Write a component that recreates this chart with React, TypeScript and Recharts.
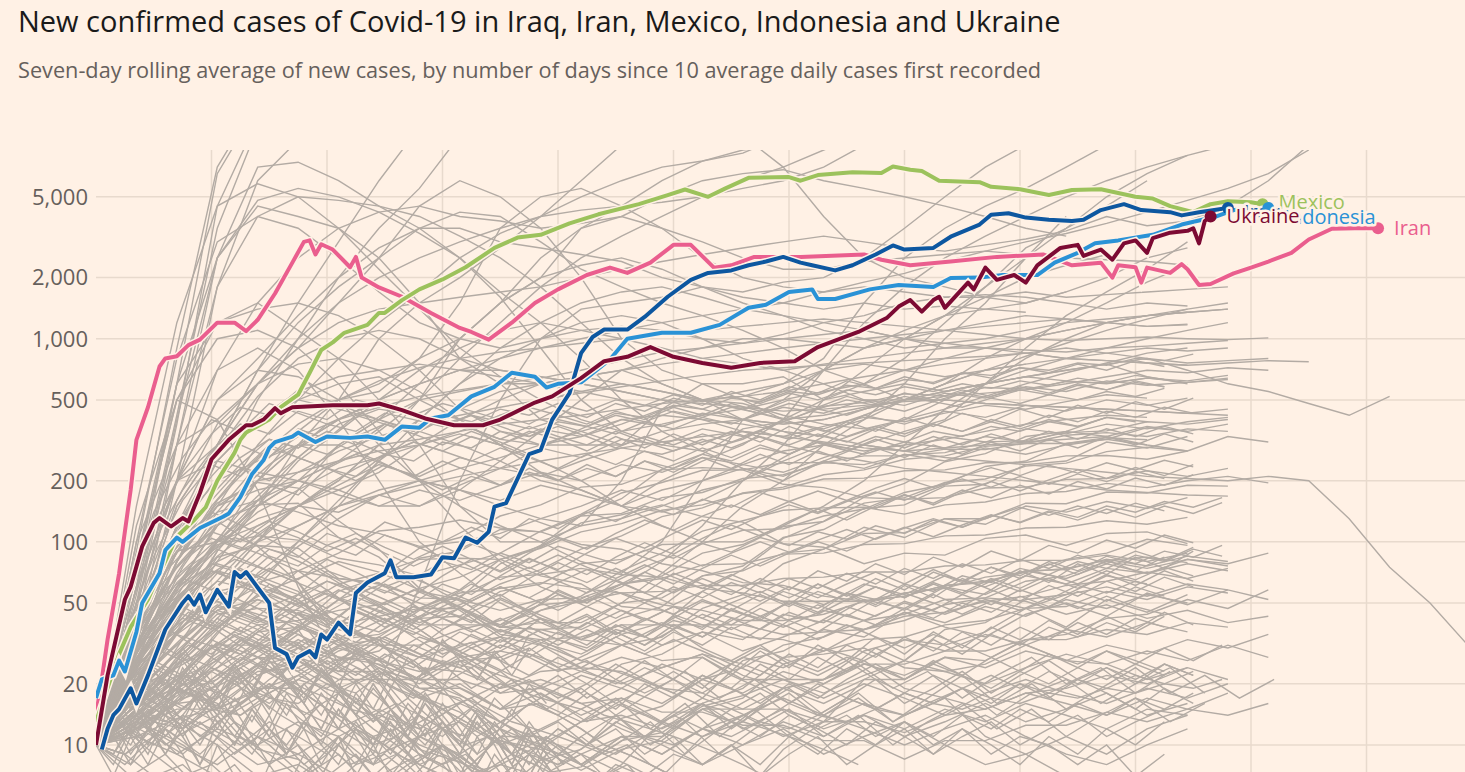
import { LineChart, Line, XAxis, YAxis, CartesianGrid } from "recharts";

const BG = "#FFF1E5";
const FONT = "'Open Sans', sans-serif";
const WEEK = 7; // days between points of the weekly grey series
const SIX = 6;
const FIVE = 5;
const FOUR = 4;
const THREE = 3;

const Y_TICKS = [10, 20, 50, 100, 200, 500, 1000, 2000, 5000];
const DAY_GRID = [20, 40, 60, 80, 100, 120, 140, 160, 180, 200, 220];

// [days since 10 average daily cases, seven-day average of new cases]
const IRAN: [number, number][] = [
  [0, 14], [1, 21], [2, 33], [4, 70], [6, 180], [7, 318], [9, 460], [11, 730], [12, 800], [14, 820],
  [16, 930], [18, 990], [21, 1200], [24, 1200], [26, 1090], [28, 1240], [31, 1670], [34, 2370], [36, 3000],
  [37, 3050], [38, 2600], [39, 2920], [41, 2750], [44, 2250], [45, 2530], [46, 2000], [49, 1790], [53, 1610],
  [58, 1340], [63, 1130], [65, 1080], [68, 990], [72, 1200], [76, 1500], [80, 1750], [85, 2060], [89, 2240],
  [92, 2110], [96, 2370], [100, 2900], [103, 2900], [107, 2240], [110, 2300], [114, 2530], [122, 2530],
  [133, 2600], [136, 2450], [141, 2300], [148, 2400], [156, 2530], [164, 2600], [169, 2300], [174, 2370],
  [176, 2000], [177, 2300], [180, 2250], [181, 1890], [182, 2240], [186, 2110], [188, 2330], [189, 2200],
  [191, 1840], [193, 1860], [197, 2100], [200, 2240], [203, 2400], [207, 2650], [210, 3080], [214, 3480],
  [218, 3500], [222, 3500],
];

const MEXICO: [number, number][] = [
  [0, 13], [4, 28], [6, 38], [9, 52], [11, 70], [14, 106], [17, 128], [19, 148], [21, 200], [24, 275],
  [25, 318], [26, 345], [30, 400], [32, 460], [35, 530], [37, 680], [39, 880], [41, 960], [43, 1070],
  [47, 1170], [49, 1340], [50, 1340], [53, 1550], [56, 1750], [60, 1960], [64, 2250], [69, 2800], [73, 3150],
  [77, 3250], [82, 3700], [87, 4100], [94, 4600], [99, 5100], [102, 5430], [106, 5000], [109, 5500],
  [113, 6200], [120, 6250], [122, 6000], [125, 6400], [131, 6600], [136, 6550], [138, 7050], [141, 6800],
  [143, 6700], [146, 6000], [153, 5900], [155, 5600], [160, 5450], [165, 5100], [169, 5400], [174, 5450],
  [180, 5000], [183, 4900], [186, 4500], [190, 4200], [193, 4600], [196, 4750], [200, 4700], [202, 4600],
];

const IRAQ: [number, number][] = [
  [1, 9.5], [2, 12], [3, 14], [4, 15], [6, 19], [7, 16], [9, 22], [12, 37], [15, 50], [16, 54], [17, 49],
  [18, 55], [19, 45], [21, 58], [23, 48], [24, 71], [25, 67], [26, 71], [30, 50], [31, 30], [33, 28],
  [34, 24], [35, 27], [37, 29], [38, 27], [39, 35], [40, 33], [42, 40], [44, 35], [45, 56], [47, 63],
  [50, 70], [51, 81], [52, 67], [55, 67], [58, 69], [60, 84], [62, 83], [64, 105], [66, 99], [68, 112],
  [69, 149], [71, 155], [75, 270], [77, 283], [79, 400], [82, 540], [84, 850], [86, 1020], [88, 1110],
  [92, 1110], [95, 1280], [99, 1610], [103, 1950], [106, 2110], [110, 2170], [113, 2300], [116, 2400],
  [119, 2530], [122, 2370], [124, 2300], [128, 2170], [131, 2300], [135, 2600], [138, 2880], [140, 2750],
  [145, 2800], [148, 3180], [153, 3650], [155, 4080], [158, 4150], [161, 3950], [165, 3850], [169, 3800],
  [171, 3850], [174, 4300], [178, 4600], [181, 4300], [186, 4200], [188, 4050], [191, 4200], [196, 4400],
];

const INDONESIA: [number, number][] = [
  [0, 17], [1, 21], [3, 22], [4, 26], [5, 23], [7, 36], [8, 50], [11, 70], [12, 91], [14, 105], [15, 100],
  [18, 117], [22, 133], [23, 138], [25, 166], [27, 215], [29, 252], [30, 290], [31, 310], [34, 330],
  [35, 345], [38, 310], [40, 330], [44, 325], [47, 330], [50, 318], [53, 370], [56, 365], [58, 405],
  [61, 420], [65, 520], [69, 580], [72, 680], [76, 650], [78, 575], [80, 600], [84, 610], [89, 790],
  [92, 1000], [98, 1070], [103, 1070], [108, 1170], [113, 1420], [116, 1470], [120, 1700], [124, 1750],
  [125, 1570], [128, 1570], [134, 1750], [139, 1840], [145, 1800], [148, 1990], [153, 2000], [157, 2060],
  [163, 2060], [166, 2370], [170, 2650], [173, 2950], [177, 3050], [183, 3250], [188, 3650], [194, 4000],
  [197, 4300], [203, 4400],
];

const UKRAINE: [number, number][] = [
  [0, 10], [2, 22], [5, 52], [6, 60], [8, 95], [10, 124], [11, 131], [13, 119], [15, 131], [16, 126],
  [18, 174], [20, 255], [23, 318], [26, 375], [27, 375], [29, 400], [31, 455], [32, 430], [34, 460],
  [41, 470], [47, 470], [49, 480], [53, 445], [57, 405], [62, 375], [67, 375], [70, 400], [76, 485],
  [79, 520], [84, 640], [88, 775], [92, 815], [96, 910], [100, 815], [105, 760], [110, 720], [115, 760],
  [121, 775], [125, 910], [132, 1080], [137, 1270], [139, 1440], [141, 1550], [143, 1360], [145, 1550],
  [146, 1610], [147, 1420], [151, 1890], [152, 1750], [154, 2240], [156, 1950], [159, 2060], [161, 1890],
  [163, 2300], [167, 2800], [170, 2900], [171, 2560], [174, 2750], [176, 2450], [178, 2950], [180, 3050],
  [182, 2650], [183, 3130], [186, 3330], [189, 3400], [190, 3500], [191, 2950], [192, 3800], [193, 4000],
];

// every other country, one value per week from day 0
const OTHER_WEEKLY: number[][] = [
  [10, 70, 600, 6500, 14000],
  [10, 45, 380, 4500, 12000],
  [10, 30, 200, 1800, 6000, 9500, 12000],
  [10, 90, 900, 7000, 15000],
  [10, 55, 420, 3500, 11000],
  [10, 40, 300, 2500, 7000, 7400, 6000, 4500, 3500, 2500, 1600, 900, 500, 350, 300, 280, 320, 400, 700, 1200, 1800, 2500, 3200, 4000, 5000, 6000, 7000, 8000, 9000, 10000],
  [10, 80, 600, 2500, 4800, 5500, 5000, 4200, 3300, 2500, 1700, 1200, 800, 500, 350, 280, 230, 200, 250, 300, 350, 400, 600, 900, 1300, 1700, 2200, 3000],
  [10, 150, 1200, 4500, 5800, 5000, 3500, 2200, 1400, 900, 650, 500, 400, 350, 380, 420, 450, 550, 700, 900, 1100, 1300, 1400, 1500, 1700, 2000, 2500, 2800],
  [10, 50, 400, 2500, 4500, 4000, 3500, 2500, 1500, 800, 600, 400, 350, 300, 450, 500, 550, 600, 800, 1500, 2500, 3500, 4500, 5500, 7000, 9000, 12000],
  [10, 30, 300, 1800, 4000, 5000, 4800, 4500, 4000, 3200, 2500, 1800, 1200, 800, 600, 500, 450, 500, 700, 900, 1000, 1300, 1800, 2800, 3500, 4500, 6000],
  [10, 100, 800, 3000, 4000, 3500, 2500, 1700, 1200, 1000, 900, 1000, 1100, 1150, 1100, 1000, 950, 1050, 1200, 1300, 1500, 1600, 1600, 1700, 1600, 1650, 1700, 1750, 1800],
  [10, 30, 100, 300, 700, 1500, 3000, 6000, 11000],
  [10, 25, 80, 200, 500, 1000, 2000, 3500, 5500, 10000],
  [10, 30, 80, 150, 300, 500, 800, 1200, 1700, 2500, 3300, 4000, 5000, 6000, 7000, 7500, 8200, 10000],
  [10, 40, 150, 300, 600, 1000, 1500, 2000, 2500, 3000, 3500, 4000, 4300, 4500, 4700, 5000, 5500, 6000, 7000, 9000],
  [10, 50, 90, 100, 150, 300, 500, 1000, 1500, 2000, 2800, 4000, 6000, 9000, 11000, 12000, 10000, 7000, 4000, 2500, 2000, 1800, 1600, 1500, 1700],
  [10, 60, 200, 300, 400, 450, 500, 550, 800, 1500, 3500, 5000, 5500, 4500, 3500, 2500, 2000, 1800, 1700, 1800, 1700, 1600, 1650, 1600, 1500, 1400, 1500, 1450],
  [10, 30, 60, 100, 150, 200, 300, 400, 600, 1000, 1500, 2500, 3500, 4500, 6000, 7500, 8500, 9000],
  [10, 40, 90, 100, 120, 150, 200, 300, 500, 800, 1200, 1800, 2500, 3200, 4000, 5000, 6000, 7000, 8500, 10000],
  [10, 30, 100, 300, 700, 1200, 1800, 2500, 3500, 4200, 4000, 3000, 2200, 1800, 1500, 1300, 1100, 900, 700, 600, 500, 500, 480, 470, 460, 450, 440, 430, 420],
  [10, 60, 600, 1200, 1400, 1500, 1300, 1000, 700, 450, 350, 300, 300, 300, 350, 380, 400, 380, 400, 450, 500, 600, 800, 1000, 1200, 1500, 1900, 2300],
  [10, 100, 300, 400, 600, 900, 1500, 2500, 4500, 6000, 5000, 3500, 2000, 1000, 700, 600, 600, 650, 500, 550, 600, 550, 600, 650, 700, 750, 650, 600],
  [10, 50, 200, 500, 800, 1300, 2000, 2800, 3500, 3500, 3000, 2800, 2600, 2400, 2000, 1800, 1600, 1500, 1400, 1500, 1400, 1450, 1400, 1350],
  [10, 80, 200, 250, 220, 200, 250, 350, 500, 1000, 1500, 2000, 3500, 4000, 3500, 3000, 2500, 2200, 2200, 2400, 2500, 2600, 2700, 2600, 2500, 2450, 2400, 2300],
  [10, 120, 500, 400, 180, 60, 25, 20, 60, 200, 500, 1000, 1400, 1500, 1600, 1800, 1700, 1900, 2000, 2500, 3500, 5000, 7000, 9000],
  [10, 60, 200, 700, 1500, 2500, 3500, 4200, 4500, 4000, 3800, 3500, 3700, 4000, 5000, 6000, 6500, 6800, 6000, 5500, 5000, 4500, 4000, 3500, 3200],
  [10, 80, 500, 1200, 1500, 1100, 800, 500, 300, 150, 100, 100, 120, 200, 450, 600, 500, 400, 350, 400, 600, 1000, 1500, 2500, 4000],
  [10, 80, 500, 1000, 1100, 900, 600, 350, 200, 150, 120, 100, 80, 70, 100, 200, 400, 500, 550, 600, 800, 1200, 1800, 2500, 3500, 5000, 6500, 8000],
  [10, 25, 60, 120, 200, 300, 400, 500, 600, 700, 800, 900, 1000, 1100, 1200, 1300, 1400, 1500, 1700, 1900, 2100, 2400, 2700, 3000, 3300, 3700, 4200, 4800, 5500, 6500, 8500],
  [10, 40, 120, 300, 600, 900, 1200, 1400, 1500, 1600, 1700, 1800, 2000, 2200, 2400, 2600, 2800, 3000, 3200, 3000, 2800, 2700, 2900, 3100, 3400, 4000, 3600, 3800, 4500, 6000, 9000],
  [10, 40, 150, 300, 400, 500, 450, 400, 350, 300, 250, 200, 180, 150, 200, 250, 300, 400, 500, 600, 700, 800, 900, 1000, 1100, 1200, 1300, 1350, 1400],
  [10, 25, 60, 120, 200, 300, 400, 500, 600, 700, 700, 650, 600, 550, 500, 450, 400, 380, 400, 450, 500, 550, 600, 650, 620, 600, 640, 610, 630],
  [10, 20, 40, 80, 150, 250, 350, 500, 700, 900, 1100, 1200, 1100, 1000, 900, 800, 750, 700, 750, 800, 850, 900, 950, 1000, 1100, 1200, 1300, 1400],
  [10, 30, 100, 250, 400, 500, 600, 650, 500, 400, 300, 250, 200, 150, 120, 100, 100, 120, 150, 200, 300, 450, 600, 800, 1000, 1200, 1300, 1350, 1400],
  [10, 15, 30, 60, 100, 150, 200, 300, 400, 600, 800, 1000, 1200, 1300, 1200, 1000, 800, 700, 600, 500, 500, 550, 600, 650, 700, 750, 800, 760, 780, 800],
  [10, 50, 200, 500, 700, 650, 500, 300, 200, 120, 80, 60, 50, 60, 80, 120, 200, 300, 500, 700, 1000, 1300, 1600, 2000, 2300, 2600],
  [10, 20, 50, 100, 200, 350, 500, 600, 800, 1000, 1500, 2000, 2300, 2500, 2200, 1800, 1500, 1300, 1100, 1000, 900, 950, 1000, 1100, 1200, 1250, 1300, 1350],
  [10, 30, 80, 150, 180, 200, 180, 150, 150, 180, 250, 350, 500, 700, 800, 900, 1000, 1000, 950, 900, 1000, 1100, 1200, 1300, 1250, 1200, 1150, 1180],
  [10, 15, 25, 40, 70, 100, 150, 250, 350, 450, 550, 600, 650, 600, 550, 500, 520, 600, 700, 750, 700, 650, 700, 750, 800, 850, 900, 870, 900],
  [10, 40, 120, 200, 250, 300, 300, 250, 200, 180, 150, 130, 120, 130, 150, 180, 200, 250, 300, 350, 400, 500, 600, 700, 800, 900, 1000, 1100, 1200],
  [10, 25, 60, 100, 130, 150, 180, 220, 300, 400, 500, 600, 650, 700, 600, 500, 400, 350, 300, 280, 300, 320, 350, 380, 400, 420, 410],
  [10, 20, 35, 60, 100, 180, 300, 400, 500, 550, 600, 600, 550, 500, 450, 400, 350, 300, 270, 250, 230, 220, 210, 200, 190, 180, 175, 170, 168],
  [10, 30, 90, 150, 200, 220, 250, 280, 300, 350, 420, 500, 550, 600, 550, 500, 450, 400, 420, 460, 500, 520, 540, 560, 600, 650, 700, 680, 720, 700],
  [10, 12, 20, 35, 60, 100, 160, 250, 400, 600, 900, 1200, 1500, 1700, 1800, 1600, 1400, 1300, 1200, 1100, 1000, 900, 900, 850, 800, 780, 760, 740],
  [10, 60, 300, 700, 900, 700, 400, 200, 100, 70, 50, 40, 40, 50, 70, 100, 150, 200, 300, 400, 500, 600, 700, 750],
  [10, 35, 110, 280, 520, 800, 1000, 1100, 1000, 800, 700, 650, 600, 550, 500, 480, 460, 440, 450, 470, 490, 500, 480, 470, 460, 450, 440, 430, 450],
  [10, 18, 40, 90, 160, 260, 380, 450, 420, 380, 320, 300, 330, 380, 450, 500, 480, 420, 380, 360, 400, 450, 520, 600, 680, 760, 850, 900],
  [10, 28, 70, 140, 240, 330, 400, 460, 520, 560, 600, 640, 700, 780, 860, 900, 950, 1000, 1050, 1100, 1000, 950, 900, 880, 860, 900, 920, 950, 980],
  [10, 45, 160, 380, 600, 750, 800, 700, 550, 400, 300, 220, 180, 150, 140, 160, 200, 260, 330, 420, 500, 600, 700, 820, 950, 1100, 1250, 1400, 1500],
  [10, 22, 50, 100, 160, 220, 280, 330, 380, 420, 460, 500, 540, 580, 620, 660, 700, 720, 740, 760, 780, 800, 820, 850, 800, 780, 760, 740, 760, 780, 770],
  [10, 30, 80, 160, 260, 380, 500, 620, 720, 800, 860, 900, 950, 1000, 1050, 1100, 1150, 1200, 1250, 1200, 1150, 1100, 1050, 1000, 980, 1000, 1020, 1000, 990, 1010],
  [10, 20, 45, 90, 150, 200, 250, 300, 320, 350, 380, 400, 420, 450, 480, 500, 520, 550, 600, 650, 700, 750, 800, 850, 900, 850, 800, 700, 600, 550, 480, 420, 520],
  [10, 30, 60, 80, 100, 120, 150, 180, 200, 230, 260, 300, 350, 400, 420, 400, 380, 350, 330, 300, 280, 260, 250, 240, 230, 220, 210, 205, 200, 210, 200, 130, 75, 50, 30],
  [10, 18, 35, 60, 90, 120, 150, 170, 190, 210, 230, 250, 270, 290, 310, 330, 350, 330, 310, 290, 280, 290, 300, 310, 320, 330, 300, 280, 330, 310],
  [10, 40, 120, 250, 400, 550, 650, 700, 750, 700, 650, 600, 650, 700, 750, 800, 850, 900, 950, 1000, 1050, 1100, 1150, 1200, 1250, 1200, 1150, 1170],
  [10, 28, 60, 95, 140, 180, 230, 260, 300, 340, 300, 360, 330, 400, 370, 430, 400, 460, 430, 500, 470, 540, 510, 580, 550, 620, 590, 610, 640],
  [10, 20, 42, 70, 110, 150, 190, 240, 210, 260, 230, 290, 260, 320, 300, 360, 330, 390, 360, 420, 380, 440, 410, 470, 440, 500, 470, 510],
  [10, 35, 75, 120, 160, 200, 170, 150, 180, 160, 190, 220, 200, 240, 220, 260, 240, 280, 300, 270, 310, 290, 330, 310, 350, 330, 370, 350, 380],
  [10, 15, 26, 42, 65, 95, 130, 170, 150, 190, 230, 210, 250, 290, 270, 310, 350, 330, 370, 410, 390, 430, 470, 450, 490, 530, 510],
  [10, 45, 95, 140, 160, 140, 120, 110, 95, 100, 110, 130, 150, 180, 160, 200, 240, 220, 260, 300, 280, 330, 310, 360, 340, 380, 360, 390, 410],
  [10, 24, 52, 85, 120, 150, 140, 170, 200, 180, 160, 190, 170, 150, 180, 200, 230, 210, 250, 230, 270, 250, 290, 270, 300, 320, 300],
  [10, 22, 31, 48, 40, 52, 38, 33, 27, 24, 19, 21, 18, 25, 28, 36, 33, 44, 40, 52, 47, 60, 55, 68, 62, 74, 70, 78, 72],
  [10, 15, 27, 38, 55, 66, 80, 71, 58, 48, 35, 33, 26, 31, 34, 47, 55, 78, 92, 118, 105, 130, 122, 150, 140, 158, 146, 165],
  [10, 26, 48, 72, 55, 42, 24, 17, 11, 9, 6, 5, 6, 8, 13, 17, 26, 29, 37, 34, 45, 38, 34, 44, 50, 43, 56, 49, 58, 52],
  [10, 19, 28, 46, 52, 44, 41, 36, 47, 58, 82, 95, 124, 136, 152, 133, 125, 98, 94, 78, 88, 86, 104, 108, 96, 110, 112, 98],
  [10, 14, 21, 26, 36, 38, 52, 61, 83, 90, 115, 112, 134, 138, 165, 175, 205, 214, 245, 240, 268, 275, 310, 315, 345, 352, 390, 380, 400],
  [10, 32, 58, 92, 76, 63, 38, 33, 19, 17, 11, 11, 8, 11, 11, 16, 19, 27, 28, 30, 24, 23, 25, 31, 26, 25, 21, 24],
  [10, 12, 16, 17, 23, 24, 31, 33, 42, 43, 57, 62, 78, 82, 97, 98, 114, 116, 134, 145, 175, 192, 235, 250, 305, 320, 365, 350],
  [10, 21, 43, 84, 96, 93, 66, 63, 47, 47, 38, 40, 33, 31, 26, 27, 21, 21, 17, 21, 21, 27, 26, 33, 35, 42, 44, 52, 47, 58],
  [10, 17, 26, 42, 33, 32, 23, 23, 19, 19, 15, 16, 13, 14, 12, 15, 15, 19, 21, 29, 33, 31, 36, 47, 38, 52, 45, 55],
  [10, 23, 38, 58, 47, 37, 19, 13, 8, 6.5, 5, 4.5, 4, 5.5, 7, 11, 13, 19, 21, 26, 19, 17, 11, 9, 7, 6],
  [10, 13, 18, 21, 31, 38, 57, 67, 93, 105, 134, 152, 186, 192, 226, 232, 226, 192, 185, 165, 162, 165, 184, 186, 203, 205, 224, 210, 230],
  [10, 26, 57, 125, 152, 155, 105, 84, 57, 52, 38, 37, 33, 42, 48, 68, 76, 105, 115, 146, 152, 188, 192, 240, 250, 310, 290, 330],
  [10, 16, 21, 32, 27, 26, 21, 21, 21, 27, 29, 37, 38, 50, 53, 68, 72, 88, 92, 110, 111, 130, 130, 155, 154, 176, 174, 190, 188],
  [10, 37, 76, 126, 95, 63, 33, 21, 11, 8.5, 5.5, 5.2, 3.8, 3.2, 2.8, 4.2, 5.6, 9.5, 13, 21, 26, 37, 40, 52, 55, 68, 62],
  [10, 12, 15, 15, 19, 19, 26, 29, 42, 53, 78, 96, 135, 163, 228, 270, 360, 390, 465, 485, 535, 525, 575, 565, 615, 605, 640, 620, 660],
  [10, 19, 24, 31, 31, 31, 27, 26, 23, 26, 27, 33, 34, 39, 39, 39, 34, 33, 29, 33, 34, 39, 41, 47, 48, 57, 52, 60, 56],
  [10, 21, 36, 57, 63, 72, 66, 62, 53, 52, 46, 52, 53, 62, 68, 88, 97, 119, 126, 155, 165, 196, 204, 236, 244, 278, 292, 280],
  [10, 16, 19, 16, 9.5, 8.5, 5.8, 5.2, 3.8, 5.2, 5.8, 8.4, 9.5, 13.5, 15.5, 21, 24, 31, 34, 41, 44, 52, 53, 51, 44, 49, 42, 46, 40, 43],
  [10, 29, 53, 78, 68, 57, 39, 31, 24, 23, 19, 23, 24, 31, 39, 57, 73, 104, 126, 166, 194, 248, 272, 330, 350, 410, 390],
  [10, 15, 21, 36, 49, 72, 88, 113, 118, 128, 117, 112, 97, 92, 78, 72, 63, 61, 54, 51, 54, 61, 63, 72, 73, 82, 76, 85, 80],
  [10, 18, 29, 44, 47, 46, 39, 43, 47, 56, 59, 63, 59, 56, 49, 46, 41, 41, 44, 51, 54, 61, 64, 71, 74, 81, 84, 79],
  [10, 42, 88, 155, 196, 184, 127, 92, 59, 46, 34, 31, 24, 23, 19, 18, 15, 15, 13, 13, 11.5, 14, 15, 18, 19, 22, 20, 24, 21],
  [10, 11, 13.5, 15, 18.5, 22, 29, 34, 46, 54, 67, 69, 74, 69, 67, 59, 56, 51, 51, 51, 56, 59, 67, 71, 82, 88, 103, 96],
  [10, 25, 44, 64, 57, 49, 37, 33, 27, 31, 34, 46, 54, 72, 88, 113, 127, 143, 147, 148, 137, 152, 157, 173, 177, 194, 185, 200, 210, 195],
  [10, 20, 31, 46, 39, 31, 19, 14.5, 9.5, 8.2, 6.8, 7.2, 7.8, 10.5, 11.5, 15.5, 17.5, 21, 21, 25, 25, 29, 29, 33, 33, 37, 35, 40, 38],
  [10, 31, 63, 97, 107, 102, 83, 77, 68, 77, 88, 113, 137, 174, 196, 225, 226, 245, 246, 265, 265, 286, 285, 306, 305, 326, 318],
  [10, 13, 19, 24, 36, 47, 62, 70, 82, 83, 82, 68, 62, 48, 46, 39, 39, 35, 36, 37, 43, 45, 51, 54, 61, 64, 71, 66, 74],
  [10, 27, 50, 72, 63, 52, 34, 26, 17.5, 14.5, 10.5, 9.5, 7.5, 9.5, 10.5, 15, 17, 25, 29, 37, 41, 49, 53, 64, 68, 80, 74, 82, 78, 88],
  [10, 16, 25, 31, 39, 41, 46, 49, 59, 67, 82, 93, 112, 123, 143, 152, 173, 182, 204, 206, 224, 226, 245, 246, 265, 266, 255, 280],
  [10, 22, 35, 49, 41, 35, 27, 25, 21, 21, 18, 19, 16, 17, 14.5, 14.5, 12.5, 12.5, 10.5, 10.5, 8.5, 10.5, 10.5, 12.5, 12.5, 14.5, 13, 15, 14, 16],
  [10, 34, 68, 103, 88, 72, 53, 46, 39, 39, 39, 46, 51, 62, 66, 77, 78, 87, 88, 97, 98, 107, 108, 117, 118, 127, 122, 132],
  [10, 12, 16.5, 19.5, 24.5, 27.5, 33, 35, 43, 49, 62, 73, 92, 107, 133, 147, 174, 186, 214, 226, 255, 265, 295, 305, 335, 345, 330, 360, 350],
  [10, 24, 39, 51, 44, 39, 31, 31, 31, 37, 41, 49, 51, 56, 57, 61, 61, 66, 67, 71, 71, 76, 77, 81, 81, 86, 80, 88],
  [10, 14, 9, 7, 5, 4, 3.5, 4, 5, 6, 8, 7, 9, 11, 9, 12, 14, 11, 13, 16, 14, 17, 15, 18, 16, 14, 17, 15, 18],
  [10, 18, 14, 11, 8, 9, 7, 6, 7, 9, 12, 10, 13, 16, 13, 11, 14, 17, 14, 12, 10, 12, 14, 11, 9, 8, 10, 12],
  [10, 12, 16, 13, 17, 21, 18, 24, 20, 26, 22, 19, 23, 27, 24, 28, 25, 21, 18, 22, 26, 23, 20, 24, 28, 25, 29, 26, 31, 27],
  [10, 15, 11, 14, 18, 15, 12, 9, 11, 13, 10, 12, 15, 12, 10, 8, 10, 12, 9, 11, 13, 10, 8, 9, 11, 9, 12, 14],
  [10, 20, 16, 22, 27, 23, 30, 26, 34, 29, 37, 32, 28, 35, 40, 34, 44, 38, 46, 41, 50, 44, 52, 47, 55, 60, 54, 62, 58],
  [10, 13, 10, 8, 11, 9, 12, 15, 12, 16, 20, 17, 22, 19, 25, 21, 27, 24, 30, 26, 33, 29, 35, 31, 37, 34, 40, 36],
  [10, 16, 22, 18, 25, 30, 26, 34, 28, 24, 31, 27, 23, 20, 24, 28, 22, 19, 16, 20, 17, 14, 18, 21, 18, 16, 19, 17, 20],
  [10, 25, 35, 30, 22, 26, 19, 23, 17, 20, 15, 18, 14, 17, 13, 16, 12, 15, 12, 14, 11, 13, 16, 13, 15, 18, 14, 16],
  [10, 11, 9, 12, 10, 13, 11, 14, 12, 16, 13, 17, 15, 19, 16, 21, 18, 23, 20, 25, 22, 27, 24, 29, 26, 31, 28, 33, 30, 35],
  [10, 30, 45, 38, 52, 44, 58, 48, 40, 47, 36, 42, 33, 39, 31, 36, 29, 34, 41, 37, 45, 40, 48, 43, 52, 47, 55, 50],
  [10, 14, 19, 15, 22, 27, 23, 31, 27, 36, 30, 42, 37, 46, 39, 51, 44, 57, 49, 62, 55, 68, 60, 72, 66, 78, 70, 82, 76],
  [10, 17, 13, 10, 7, 8, 6, 7, 9, 7, 8, 10, 8, 11, 9, 12, 10, 13, 11, 14, 12, 15, 13, 16, 14, 12, 15, 14],
];

// low-level countries, one value every six days from day 0
const OTHER_SIX_DAY: number[][] = [
  [10, 8, 12, 9, 13, 10, 7, 11, 8, 12, 15, 11, 14, 10, 13, 17, 12, 16, 11, 15, 19, 14, 18, 13, 17, 22, 16, 20, 15, 19, 24, 18, 22, 17, 21],
  [10, 14, 10, 13, 9, 12, 8, 11, 7, 10, 13, 9, 12, 8, 11, 14, 10, 13, 9, 12, 15, 11, 14, 10, 13, 16, 12, 15, 11, 14, 17, 13, 16],
  [10, 12, 16, 11, 15, 20, 14, 18, 13, 17, 12, 16, 21, 15, 19, 14, 18, 23, 17, 21, 16, 20, 25, 19, 23, 17, 22, 27, 20, 24, 18, 23],
  [10, 7, 9, 6, 8, 5, 7, 9, 6, 8, 10, 7, 9, 11, 8, 10, 13, 9, 12, 15, 11, 14, 17, 13, 16, 19, 14, 18, 21, 16, 20, 24, 18],
];

// more countries, one value every five days from day 0
const OTHER_FIVE_DAY: number[][] = [
  [10, 12, 9, 7, 8, 6, 5, 7, 6, 8, 9, 7, 10, 8, 11, 9, 12, 10, 14, 11, 13, 16, 12, 15, 18, 14, 17, 21, 16, 19, 23, 18, 22, 26, 21, 24, 20, 25, 22],
  [10, 18, 26, 22, 31, 28, 36, 30, 25, 29, 22, 26, 20, 24, 18, 21, 17, 20, 16, 19, 23, 19, 25, 22, 28, 24, 31, 27, 34, 29, 36, 31, 38, 33, 40, 35, 42, 38],
  [10, 15, 22, 30, 41, 36, 48, 55, 47, 60, 52, 45, 53, 44, 38, 45, 37, 43, 35, 41, 48, 42, 50, 57, 49, 62, 54, 66, 58, 71, 63, 75, 68, 80, 72, 85, 78, 90, 84, 96],
  [10, 8, 11, 14, 12, 16, 20, 17, 23, 28, 24, 31, 27, 35, 30, 38, 33, 29, 36, 31, 39, 34, 42, 37, 45, 40, 48, 43, 51, 46, 55, 49, 58, 52, 61, 56, 64, 58],
  [10, 14, 19, 26, 35, 47, 40, 55, 64, 58, 72, 66, 80, 73, 88, 79, 95, 86, 78, 91, 83, 98, 89, 105, 96, 112, 103, 120, 110, 128, 118, 135, 125, 142, 132, 150, 140, 158, 148, 165],
  [10, 22, 35, 48, 40, 33, 27, 31, 24, 20, 23, 18, 15, 17, 13, 11, 13, 10, 12, 9, 11, 8, 10, 7, 9, 11, 8, 10, 12, 9, 11, 13, 10, 12, 14, 11, 13, 15],
  [10, 13, 11, 15, 19, 16, 21, 26, 22, 28, 34, 29, 37, 45, 39, 48, 57, 50, 60, 71, 62, 74, 86, 76, 88, 100, 90, 104, 118, 106, 121, 136, 124, 140, 128, 145, 132, 150, 138, 156],
  [10, 20, 34, 52, 45, 60, 74, 65, 82, 71, 60, 68, 56, 48, 55, 45, 38, 44, 36, 31, 37, 30, 26, 31, 25, 22, 26, 21, 18, 22, 19, 16, 20, 17, 21, 18, 15, 19, 16],
  [10, 9, 12, 10, 8, 11, 9, 7, 9, 12, 10, 13, 11, 15, 12, 16, 14, 18, 15, 20, 17, 22, 19, 25, 21, 27, 23, 30, 26, 33, 28, 35, 31, 38, 34, 40, 36, 43],
  [10, 16, 25, 21, 30, 38, 33, 45, 39, 50, 44, 37, 46, 40, 52, 45, 58, 50, 64, 56, 70, 62, 55, 66, 58, 72, 64, 78, 69, 84, 75, 90, 81, 96, 88, 102, 93, 108, 99],
  [10, 25, 42, 60, 78, 70, 92, 84, 110, 98, 125, 112, 100, 118, 104, 130, 116, 140, 126, 150, 136, 162, 148, 175, 158, 140, 160, 146, 170, 155, 180, 165, 190, 172, 198, 182, 206, 190, 214],
  [10, 11, 13, 12, 15, 14, 17, 16, 20, 18, 23, 21, 26, 24, 29, 27, 33, 30, 37, 34, 41, 38, 46, 42, 51, 47, 56, 52, 62, 57, 68, 63, 74, 69, 80, 74, 86, 80, 92, 85],
  [10, 28, 48, 66, 58, 74, 62, 50, 58, 46, 38, 44, 35, 30, 34, 27, 23, 26, 21, 18, 21, 17, 15, 18, 14, 12, 14, 11, 13, 10, 12, 9, 11, 10, 8, 10, 7, 9],
  [10, 17, 13, 20, 16, 24, 19, 27, 22, 31, 26, 21, 25, 19, 23, 18, 22, 17, 21, 26, 21, 27, 22, 29, 24, 31, 26, 34, 28, 36, 30, 38, 33, 41, 35, 43, 37, 45, 39],
  [10, 12, 17, 23, 30, 26, 35, 44, 38, 50, 62, 54, 68, 82, 72, 88, 104, 92, 110, 128, 114, 134, 152, 136, 158, 178, 160, 184, 205, 185, 210, 232, 212, 238, 218, 245, 226, 252, 234],
  [10, 19, 30, 26, 36, 45, 40, 50, 43, 36, 42, 34, 28, 32, 26, 30, 24, 28, 34, 29, 36, 31, 38, 33, 41, 36, 44, 39, 47, 42, 50, 45, 54, 48, 57, 51, 60, 54],
  [10, 9, 7, 8, 6, 5, 6, 4.5, 5, 6, 5, 7, 6, 8, 7, 9, 8, 10, 9, 11, 10, 12, 11, 13, 12, 14, 13, 15, 14, 16, 15, 17, 16, 18, 17, 19, 18, 20, 19, 21],
  [10, 23, 38, 54, 72, 64, 85, 76, 96, 86, 108, 96, 84, 98, 86, 74, 86, 75, 66, 77, 67, 59, 69, 60, 53, 62, 55, 48, 56, 50, 44, 51, 46, 53, 47, 54, 48, 44],
  [10, 14, 18, 15, 21, 27, 23, 30, 37, 32, 40, 48, 42, 51, 60, 53, 63, 73, 64, 75, 86, 76, 88, 100, 89, 102, 115, 103, 117, 130, 118, 133, 148, 135, 150, 138, 155, 142],
  [10, 16, 13, 18, 24, 20, 27, 33, 28, 35, 30, 26, 32, 27, 23, 28, 24, 20, 25, 21, 18, 22, 19, 16, 20, 17, 21, 25, 21, 26, 22, 27, 23, 28, 24, 29, 25, 30, 26, 31],
  [10, 31, 56, 80, 104, 92, 118, 105, 90, 104, 88, 76, 88, 75, 65, 75, 64, 56, 65, 56, 49, 57, 49, 43, 50, 44, 52, 60, 53, 62, 55, 64, 57, 66, 59, 69, 61, 72, 64],
  [10, 12, 10, 13, 16, 14, 18, 22, 19, 24, 20, 17, 21, 18, 15, 19, 16, 13, 16, 14, 12, 15, 13, 11, 14, 12, 10, 13, 11, 9, 12, 10, 8, 11, 9, 12, 10, 13],
  [10, 21, 30, 42, 37, 48, 58, 52, 64, 56, 49, 58, 51, 45, 53, 46, 55, 48, 57, 50, 60, 53, 63, 56, 66, 59, 70, 62, 74, 66, 78, 70, 82, 74, 86, 78, 90, 81, 94],
  [10, 13, 17, 22, 19, 25, 32, 28, 36, 45, 40, 50, 62, 55, 68, 82, 73, 88, 104, 93, 110, 128, 115, 134, 152, 138, 158, 176, 160, 182, 204, 186, 210, 192, 216, 198, 222, 205],
  [10, 27, 18, 12, 16, 11, 8, 10, 7, 9, 6, 8, 10, 8, 11, 9, 12, 10, 13, 11, 14, 12, 15, 13, 16, 14, 17, 15, 18, 16, 19, 17, 20, 18, 21, 19, 22, 20, 23],
  [10, 15, 21, 18, 25, 33, 28, 37, 46, 40, 50, 43, 37, 44, 38, 46, 40, 48, 42, 50, 44, 52, 46, 55, 48, 57, 51, 60, 53, 63, 56, 66, 59, 69, 62, 72, 65, 75, 68],
  [10, 18, 27, 38, 52, 46, 62, 55, 72, 64, 56, 66, 58, 51, 60, 53, 46, 54, 47, 41, 48, 42, 37, 43, 38, 33, 39, 34, 30, 35, 31, 27, 32, 28, 25, 29, 26, 23],
  [10, 11, 14, 12, 15, 19, 16, 21, 26, 22, 28, 24, 30, 26, 33, 29, 36, 31, 39, 34, 43, 37, 47, 41, 51, 45, 56, 49, 61, 53, 66, 58, 72, 63, 78, 69, 84, 74, 90],
  [10, 36, 62, 88, 112, 100, 126, 112, 96, 110, 94, 82, 95, 82, 71, 83, 72, 63, 74, 64, 56, 66, 58, 51, 60, 53, 62, 71, 62, 73, 64, 75, 66, 78, 69, 81, 72, 84],
  [10, 9, 11, 9, 12, 10, 13, 11, 9, 12, 10, 8, 10, 8, 7, 9, 7, 6, 8, 7, 9, 8, 10, 8, 11, 9, 12, 10, 13, 11, 14, 12, 15, 13, 16, 14, 17, 15, 18],
  [10, 14, 20, 28, 24, 33, 29, 39, 34, 46, 40, 35, 42, 37, 32, 38, 33, 40, 35, 42, 37, 44, 39, 47, 41, 49, 43, 52, 46, 55, 48, 58, 51, 61, 54, 64, 57, 67, 60],
  [10, 24, 40, 56, 49, 64, 56, 48, 56, 48, 41, 48, 42, 36, 42, 36, 31, 37, 32, 28, 33, 29, 25, 30, 26, 23, 27, 24, 21, 25, 22, 19, 23, 20, 24, 21, 25, 22],
  [10, 12, 15, 19, 24, 21, 28, 35, 30, 38, 47, 41, 51, 62, 54, 66, 79, 69, 84, 99, 87, 104, 121, 107, 126, 145, 128, 150, 171, 152, 176, 198, 178, 202, 226, 205, 232, 212, 240],
  [10, 17, 24, 20, 27, 34, 30, 38, 33, 28, 34, 29, 25, 30, 26, 22, 27, 23, 20, 24, 21, 18, 22, 19, 16, 20, 17, 15, 18, 16, 19, 22, 19, 23, 20, 24, 21, 25, 22],
  [10, 30, 70, 130, 210, 300, 260, 360, 320, 420, 380, 340, 400, 360, 420, 380, 450, 410, 480, 440, 510, 470, 550, 500, 580, 540, 620, 570, 650, 600, 680, 640, 720, 680, 750, 700, 780, 730],
  [10, 22, 48, 90, 150, 220, 300, 260, 340, 300, 380, 340, 300, 350, 310, 270, 320, 280, 330, 290, 340, 300, 350, 310, 370, 330, 390, 350, 410, 370, 430, 390, 450, 410, 470, 430, 490, 450, 510],
  [10, 40, 100, 180, 280, 380, 340, 440, 400, 500, 460, 420, 480, 440, 400, 460, 420, 380, 440, 400, 460, 420, 480, 440, 500, 460, 520, 480, 540, 500, 560, 520, 580, 540, 600, 560, 620, 580],
  [10, 18, 35, 60, 95, 140, 190, 170, 230, 210, 270, 250, 310, 290, 350, 330, 390, 370, 430, 410, 470, 450, 510, 490, 550, 530, 590, 570, 630, 610, 680, 660, 720, 700, 760, 740, 800, 780, 840],
  [10, 35, 85, 160, 240, 210, 290, 260, 230, 270, 240, 210, 250, 220, 190, 230, 200, 240, 210, 250, 220, 260, 230, 270, 240, 280, 250, 290, 260, 300, 270, 310, 280, 320, 290, 330, 300, 340, 310],
  [10, 26, 60, 110, 170, 240, 320, 290, 380, 350, 430, 400, 370, 420, 390, 360, 400, 370, 420, 390, 440, 410, 460, 430, 480, 450, 500, 470, 520, 490, 540, 510, 560, 530, 590, 560, 610, 580],
  [10, 50, 140, 260, 400, 350, 480, 430, 380, 440, 390, 350, 400, 360, 320, 370, 330, 300, 350, 310, 280, 320, 290, 330, 300, 340, 310, 360, 330, 380, 350, 400, 370, 420, 390, 440, 410, 460, 430],
  [10, 20, 40, 75, 120, 180, 240, 300, 270, 330, 380, 350, 420, 390, 450, 420, 480, 440, 500, 470, 530, 490, 520, 480, 540, 500, 560, 530, 580, 550, 600, 570, 620, 590, 640, 610, 660, 630],
  [10, 28, 65, 120, 190, 260, 320, 290, 350, 310, 270, 310, 280, 250, 290, 260, 230, 270, 240, 280, 250, 290, 260, 300, 270, 310, 280, 320, 290, 330, 300, 340, 310, 350, 320, 360, 330, 370, 340],
  [10, 15, 25, 40, 60, 85, 115, 150, 190, 230, 270, 310, 280, 330, 300, 350, 320, 370, 340, 390, 360, 410, 380, 430, 400, 450, 420, 470, 440, 490, 460, 510, 480, 530, 500, 550, 520, 570],
  [10, 45, 120, 220, 340, 460, 420, 560, 500, 440, 490, 430, 380, 420, 370, 330, 370, 330, 290, 330, 300, 340, 310, 350, 320, 360, 330, 370, 340, 380, 350, 390, 360, 400, 370, 410],
  [10, 25, 55, 100, 160, 230, 200, 260, 230, 200, 240, 210, 180, 210, 190, 220, 200, 230, 210, 250, 230, 270, 250, 290, 270, 310, 290, 330, 310, 350, 330, 370, 350, 390, 370, 410, 390],
];

// smaller outbreaks that faded, one value every four days from day 0
const OTHER_FOUR_DAY: number[][] = [
  [10, 14, 19, 25, 31, 28, 35, 30, 26, 22, 18, 15, 12, 10, 8, 7, 6, 5, 4],
  [10, 18, 24, 33, 40, 46, 41, 37, 30, 26, 21, 17, 14, 11, 9, 8, 6, 5],
  [10, 12, 16, 14, 19, 23, 20, 17, 14, 12, 10, 8, 9, 7, 6, 5, 4],
  [10, 22, 35, 48, 60, 72, 65, 58, 50, 42, 36, 30, 25, 21, 18, 15, 13, 11, 9, 8, 7, 6, 5],
  [10, 15, 21, 28, 36, 44, 52, 60, 55, 49, 43, 38, 33, 28, 24, 20, 17, 14, 12, 10, 9, 8, 7, 6],
  [10, 13, 11, 15, 18, 16, 20, 24, 21, 18, 15, 13, 11, 9, 8, 9, 7, 6, 5],
  [10, 25, 40, 58, 75, 90, 105, 96, 88, 78, 68, 58, 50, 43, 37, 31, 26, 22, 19, 16, 14, 12, 10, 9, 8, 7, 6],
  [10, 16, 23, 30, 26, 33, 29, 25, 21, 18, 15, 13, 11, 12, 10, 9, 8, 7, 6, 5],
  [10, 11, 14, 17, 21, 26, 31, 37, 44, 39, 35, 31, 27, 24, 21, 18, 16, 14, 12, 11, 10, 9, 8, 7, 6, 5],
  [10, 19, 28, 38, 32, 27, 23, 19, 16, 13, 11, 9, 8, 9, 7, 6, 5, 4],
  [10, 14, 20, 17, 24, 30, 36, 32, 28, 33, 29, 25, 22, 19, 17, 15, 13, 11, 10, 9, 8, 9, 7, 6, 5],
  [10, 12, 15, 18, 22, 20, 25, 29, 33, 38, 34, 30, 27, 24, 21, 19, 17, 15, 13, 12, 11, 10, 9, 10, 8, 7, 6],
  [10, 30, 55, 80, 110, 140, 125, 110, 96, 82, 70, 60, 51, 44, 37, 31, 27, 23, 19, 16, 14, 12, 10, 9, 8, 7],
  [10, 13, 17, 21, 18, 23, 27, 31, 27, 23, 20, 17, 14, 12, 14, 12, 10, 11, 9, 8, 10, 8, 7, 8, 6, 5],
  [10, 17, 26, 35, 45, 38, 32, 27, 22, 18, 15, 12, 10, 11, 9, 8, 9, 7, 6, 5],
  [10, 12, 14, 13, 16, 19, 23, 27, 32, 38, 45, 52, 60, 55, 50, 46, 42, 38, 35, 32, 29, 26, 24, 22, 20, 18, 16, 15, 13, 12, 11, 10, 9, 8],
  [10, 20, 32, 45, 58, 70, 82, 75, 68, 61, 55, 49, 44, 39, 35, 31, 28, 25, 22, 20, 18, 16, 14, 13, 12, 11, 10, 9, 8, 7],
  [10, 11, 13, 16, 19, 17, 21, 25, 22, 19, 17, 15, 14, 16, 14, 12, 11, 13, 11, 10, 9, 11, 9, 8, 7],
];

// early, noisy low counts, one value every three days from day 0
const OTHER_THREE_DAY: number[][] = [
  [10, 13, 9, 12, 16, 11, 14, 18, 13, 10, 14, 9, 12, 8, 11, 7, 10, 13, 9, 7, 10, 8, 6, 9, 7, 5, 8, 6],
  [10, 8, 12, 9, 14, 11, 8, 13, 10, 15, 11, 9, 13, 16, 12, 18, 14, 11, 16, 13, 19, 15, 12, 17, 14, 20, 16],
  [10, 15, 11, 18, 14, 21, 16, 12, 17, 13, 19, 24, 18, 14, 20, 16, 22, 17, 13, 18, 14, 11, 15, 12, 9, 13, 10, 8],
  [10, 12, 17, 13, 9, 12, 8, 11, 15, 11, 8, 12, 9, 7, 10, 13, 10, 7, 9, 12, 9, 6, 8, 11, 8, 6, 9],
  [10, 14, 19, 25, 20, 27, 22, 30, 24, 19, 26, 21, 17, 23, 18, 14, 19, 15, 12, 16, 13, 10, 14, 11, 9, 12, 9, 7],
  [10, 9, 13, 10, 15, 12, 17, 13, 10, 14, 11, 16, 12, 18, 14, 20, 15, 22, 17, 24, 19, 26, 21, 28, 22, 30],
  [10, 16, 12, 20, 15, 24, 18, 14, 21, 16, 12, 18, 14, 10, 15, 11, 8, 12, 9, 13, 10, 7, 11, 8, 6, 9, 7, 5],
  [10, 11, 8, 12, 9, 13, 10, 14, 11, 9, 12, 10, 13, 11, 15, 12, 10, 14, 11, 9, 12, 10, 8, 11, 9, 7, 10, 8],
  [10, 18, 13, 22, 17, 26, 20, 15, 23, 18, 28, 21, 16, 24, 19, 14, 20, 15, 11, 17, 13, 10, 14, 11, 8, 12, 9],
  [10, 12, 10, 14, 17, 13, 19, 15, 22, 18, 26, 20, 16, 23, 19, 30, 24, 19, 27, 22, 33, 26, 21, 29, 24, 35],
  [10, 7, 11, 8, 12, 9, 6, 10, 7, 5, 8, 6, 9, 7, 10, 8, 11, 9, 12, 10, 13, 10, 14, 11, 15, 12, 9],
  [10, 14, 11, 16, 21, 17, 24, 19, 15, 22, 18, 14, 20, 16, 12, 17, 13, 19, 15, 11, 16, 12, 9, 13, 10, 8, 11],
  [10, 20, 15, 26, 19, 30, 23, 17, 25, 19, 14, 21, 16, 12, 18, 14, 10, 15, 11, 9, 13, 10, 8, 11, 9, 7, 10, 8],
  [10, 9, 12, 15, 11, 14, 18, 14, 11, 15, 12, 9, 13, 10, 8, 12, 9, 14, 11, 8, 12, 9, 13, 10, 7, 11, 8, 6],
  [10, 13, 17, 12, 16, 21, 15, 19, 25, 19, 15, 21, 16, 12, 18, 14, 20, 15, 11, 16, 12, 9, 14, 11, 8, 12, 9],
];

const HIGHLIGHTS = [
  { name: "Iran", data: IRAN, color: "#EA5E8E", dy: 0 },
  { name: "Mexico", data: MEXICO, color: "#9CC25C", dy: -2 },
  { name: "Iraq", data: IRAQ, color: "#0D57A0", dy: 4 },
  { name: "Indonesia", data: INDONESIA, color: "#2A92D6", dy: 9 },
  { name: "Ukraine", data: UKRAINE, color: "#7C0A33", dy: 0 },
];

const evenly = (vals: number[], step: number) => vals.map((v, i) => ({ day: i * step, v }));
const pairs = (rows: [number, number][]) => rows.map(([day, v]) => ({ day, v }));

const GREY_SERIES = [
  ...OTHER_WEEKLY.map((vals) => evenly(vals, WEEK)),
  ...OTHER_SIX_DAY.map((vals) => evenly(vals, SIX)),
  ...OTHER_FIVE_DAY.map((vals) => evenly(vals, FIVE)),
  ...OTHER_FOUR_DAY.map((vals) => evenly(vals, FOUR)),
  ...OTHER_THREE_DAY.map((vals) => evenly(vals, THREE)),
];

function endMarker(name: string, color: string, dy: number, last: number) {
  return (props: any) => {
    const { cx, cy, index } = props;
    if (index !== last) return <g key={`${name}-${index}`} />;
    return (
      <g key={`${name}-end`}>
        <circle cx={cx} cy={cy} r={6} fill={color} />
        <text
          x={cx + 16}
          y={cy + dy}
          dy="0.35em"
          fontSize={20}
          fontFamily={FONT}
          fill={color}
          stroke={BG}
          strokeWidth={5}
          strokeLinejoin="round"
          paintOrder="stroke"
        >
          {name}
        </text>
      </g>
    );
  };
}

export default function App() {
  return (
    <div
      style={{
        position: "fixed",
        left: 0,
        top: 0,
        width: 1465,
        height: 772,
        overflow: "hidden",
        background: BG,
        fontFamily: FONT,
      }}
    >
      <div style={{ position: "absolute", left: 18, top: 4, fontSize: 29, lineHeight: "34px", color: "#1a1a1a", whiteSpace: "nowrap" }}>
        New confirmed cases of Covid-19 in Iraq, Iran, Mexico, Indonesia and Ukraine
      </div>
      <div style={{ position: "absolute", left: 18, top: 57, fontSize: 21.7, lineHeight: "26px", color: "#66605C", whiteSpace: "nowrap" }}>
        Seven-day rolling average of new cases, by number of days since 10 average daily cases first recorded
      </div>
      <div style={{ position: "absolute", left: 0, top: 0 }}>
        <LineChart width={1482} height={948} margin={{ top: 150, right: 0, bottom: 0, left: 0 }}>
          <CartesianGrid stroke="#E8DACD" strokeWidth={1.5} verticalValues={DAY_GRID} horizontalValues={Y_TICKS} />
          <XAxis type="number" dataKey="day" domain={[0, 240]} ticks={DAY_GRID} hide allowDataOverflow />
          <YAxis
            type="number"
            scale="log"
            domain={[1, 8500]}
            ticks={Y_TICKS}
            allowDataOverflow
            width={96}
            axisLine={false}
            tickLine={false}
            tick={{ fill: "#66605C", fontSize: 22, fontFamily: FONT }}
            tickFormatter={(v: number) => v.toLocaleString("en-US")}
          />
          {GREY_SERIES.map((points, k) => (
            <Line
              key={`other-${k}`}
              data={points}
              dataKey="v"
              type="linear"
              stroke="#B3ABA4"
              strokeWidth={1.4}
              dot={false}
              activeDot={false}
              isAnimationActive={false}
            />
          ))}
          {HIGHLIGHTS.flatMap((s) => [
            <Line
              key={`${s.name}-halo`}
              data={pairs(s.data)}
              dataKey="v"
              type="linear"
              stroke={BG}
              strokeWidth={7}
              dot={false}
              activeDot={false}
              isAnimationActive={false}
            />,
            <Line
              key={s.name}
              data={pairs(s.data)}
              dataKey="v"
              type="linear"
              stroke={s.color}
              strokeWidth={4}
              strokeLinejoin="round"
              dot={endMarker(s.name, s.color, s.dy, s.data.length - 1)}
              activeDot={false}
              isAnimationActive={false}
            />,
          ])}
        </LineChart>
      </div>
    </div>
  );
}
